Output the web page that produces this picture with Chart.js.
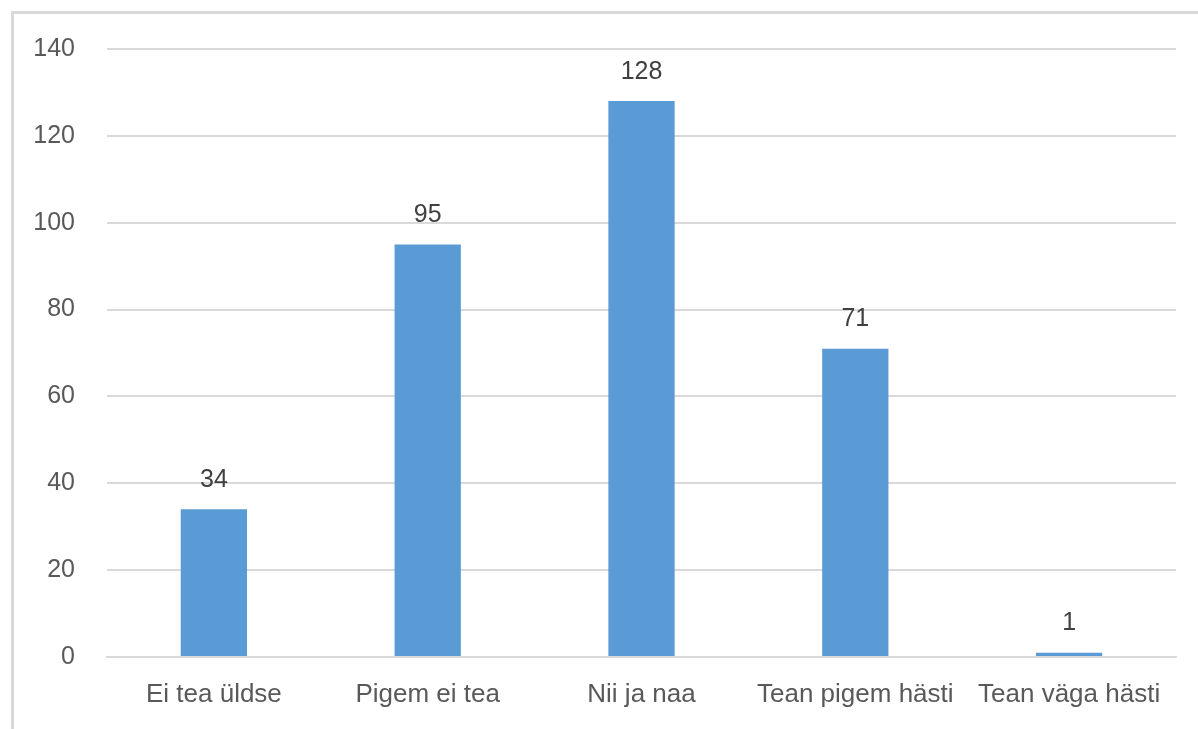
<!DOCTYPE html>
<html>
<head>
<meta charset="utf-8">
<script src="https://cdn.jsdelivr.net/npm/chart.js@4"></script>
<style>
  body { margin: 0; background: #fff; }
  #wrap { position: relative; width: 1198px; height: 729px; }
  #frame { position: absolute; left: 11px; top: 11px; right: 0; bottom: 0;
           border-left: 3px solid #d9d9d9; border-top: 3px solid #d9d9d9; }
  canvas { position: absolute; left: 0; top: 0; }
</style>
</head>
<body>
<div id="wrap">
  <div id="frame"></div>
  <canvas id="bar-chart" width="1198" height="729"></canvas>
</div>
<script>
// categories and answers count
let categories = ["Ei tea üldse", "Pigem ei tea", "Nii ja naa", "Tean pigem hästi", "Tean väga hästi"]
let answer_counts = [34, 95, 128, 71, 1]
let y_ticks = [0, 20, 40, 60, 80, 100, 120, 140]

// draw the value above each bar
let valueLabels = {
    id: 'valueLabels',
    afterDatasetsDraw(chart){
        let ctx = chart.ctx
        let meta = chart.getDatasetMeta(0)
        ctx.save()
        ctx.font = '25px "Liberation Sans", Arial, sans-serif'
        ctx.fillStyle = '#404040'
        ctx.textAlign = 'center'
        ctx.textBaseline = 'bottom'
        meta.data.forEach(function(bar, i){
            ctx.fillText(answer_counts[i], bar.x, bar.y - 17)
        })
        ctx.restore()
    }
}

let chart_data = {
    labels: categories,
    datasets: [{
        label: 'Vastajaid',
        data: answer_counts,
        backgroundColor: '#5b9bd5',
        barPercentage: 0.31,
        categoryPercentage: 1.0
    }]
}

let chart_options = {
    responsive: false,
    animation: false,
    layout: { padding: { top: 49, right: 22, left: 0, bottom: 0 } },
    plugins: {
        legend: { display: false },
        tooltip: { enabled: false }
    },
    scales: {
        x: {
            grid: { display: false, drawTicks: false },
            border: { display: true, color: '#d9d9d9', width: 2 },
            ticks: {
                color: '#595959',
                padding: 22,
                maxRotation: 0,
                autoSkip: false,
                font: { family: '"Liberation Sans", Arial, sans-serif', size: 26 }
            },
            afterFit: function(scale){ scale.height = 72 }
        },
        y: {
            min: 0,
            max: 140,
            grid: { color: '#d9d9d9', lineWidth: 2, drawTicks: false },
            border: { display: false },
            afterBuildTicks: function(scale){
                scale.ticks = y_ticks.map(function(v){ return { value: v } })
            },
            ticks: {
                color: '#595959',
                padding: 32,
                font: { family: '"Liberation Sans", Arial, sans-serif', size: 25 }
            },
            afterFit: function(scale){ scale.width = 107 }
        }
    }
}

let ctx = document.getElementById('bar-chart').getContext('2d')
let BarChart = new Chart(ctx, {
    type: 'bar',
    data: chart_data,
    options: chart_options,
    plugins: [valueLabels]
})
</script>
</body>
</html>
